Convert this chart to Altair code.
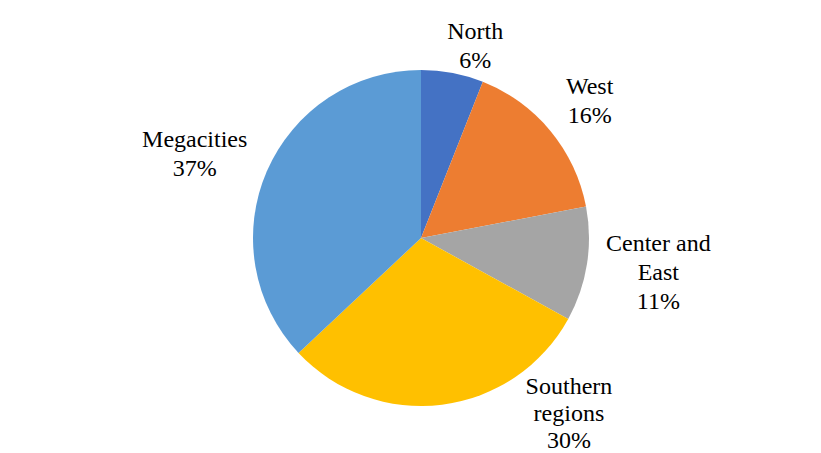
import altair as alt
import pandas as pd

categories = ["North", "West", "Center and East", "Southern regions", "Megacities"]
labels = ["North\n6%", "West\n16%", "Center and\nEast\n11%", "Southern\nregions\n30%", "Megacities\n37%"]
values = [6, 16, 11, 30, 37]
colors = ["#4472C4", "#ED7D31", "#A5A5A5", "#FFC000", "#5B9BD5"]

df = pd.DataFrame({"cat": categories, "label": labels, "value": values,
                   "order": list(range(len(categories)))})

CX, CY, R = 413, 230, 168

theta = alt.Theta("value:Q", stack=True, scale=alt.Scale(domain=[0, 100]))

pie = alt.Chart(df).mark_arc(radius=R, x=CX, y=CY).encode(
    theta=theta,
    order=alt.Order("order:Q"),
    color=alt.Color("cat:N", scale=alt.Scale(domain=categories, range=colors), legend=None),
)

offsets = {
    "North": (14, 5.5),
    "West": (3, -13.5),
    "Center and East": (25, -28),
    "Southern regions": (121, -64),
    "Megacities": (-29, -12.5),
}
line_heights = {"Southern regions": 27}

layers = [pie]
for c in categories:
    dx, dy = offsets[c]
    t = alt.Chart(df).mark_text(
        radius=215, x=CX, y=CY, dx=dx, dy=dy,
        font="Liberation Serif", fontSize=24, lineHeight=line_heights.get(c, 29),
        lineBreak="\n", align="center", baseline="middle", color="#000000",
    ).encode(
        theta=theta,
        order=alt.Order("order:Q"),
        text=alt.condition(alt.datum.cat == c, "label:N", alt.value("")),
    )
    layers.append(t)

chart = alt.layer(*layers).properties(
    width=805, height=445, padding=0, autosize="none"
).configure_view(stroke=None)

chart.save("out.html", embed_options={"renderer": "svg", "actions": False})
